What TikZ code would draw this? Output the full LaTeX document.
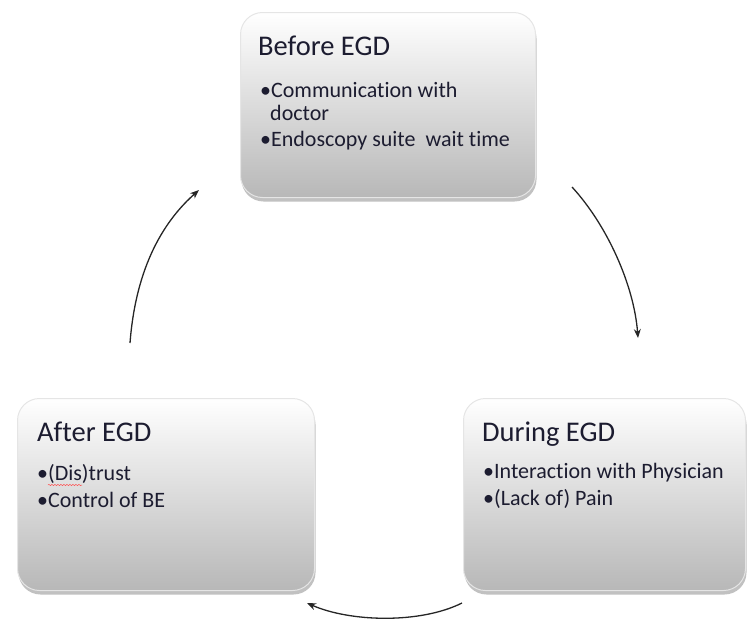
\documentclass[tikz,border=0pt]{standalone}
\usepackage{fontspec}
\setmainfont{Carlito}[Ligatures=NoCommon]
\usetikzlibrary{shadows,arrows.meta,decorations.pathmorphing}
\definecolor{ink}{RGB}{28,28,48}
\begin{document}
\begin{tikzpicture}[x=1pt,y=-1pt]
\useasboundingbox (0,0) rectangle (747,621);
\tikzset{
 box/.style={rounded corners=22pt, top color=white, bottom color=black!28, draw=white!80!gray, line width=1pt,
   drop shadow={shadow xshift=1pt, shadow yshift=-4pt, opacity=0.35, fill=black!70}},
 ttl/.style={anchor=base west, inner sep=0pt, font=\fontsize{28.5}{30}\selectfont, text=ink},
 itm/.style={anchor=base west, inner sep=0pt, font=\fontsize{22}{24}\selectfont, text=ink},
 cyc/.style={-{Stealth[length=9pt,width=7pt]}, line width=1.3pt, black!85}
}
% boxes
\node[box, anchor=north west, minimum width=295pt, minimum height=185pt] (before) at (240,12) {};
\node[box, anchor=north west, minimum width=297pt, minimum height=192pt] (after) at (17,398) {};
\node[box, anchor=north west, minimum width=282pt, minimum height=192pt] (during) at (463,398) {};
% Before texts
\node[ttl] (bt) at (258,55) {Before EGD};
\node[itm] (b1) at (260,97) {•Communication with};
\node[itm] (b2) at (270,120) {doctor};
\node[itm] (b3) at (260,146) {•Endoscopy suite\ \ wait time};
% After texts
\node[ttl] (at) at (37,441) {After EGD};
\node[itm] (a1) at (37,480) {•(Dis)trust};
\node[itm] (a2) at (37,507) {•Control of BE};
\draw[red!70, line width=0.5pt, decorate, decoration={snake, amplitude=0.6pt, segment length=3pt}] (48,485) -- (82,485);
% During texts
\node[ttl] (dt) at (482,441) {During EGD};
\node[itm] (d1) at (483,478) {•Interaction with Physician};
\node[itm] (d2) at (483,505) {•(Lack of) Pain};
% cycle arrows
\coordinate (l1) at (130,343);
\coordinate (l2) at (199,190);
\coordinate (r1) at (572,187);
\coordinate (r2) at (638,338);
\coordinate (m1) at (462,603);
\coordinate (m2) at (307,603);
\draw[cyc] (l1) .. controls (136,265) and (165,220) .. (l2);
\draw[cyc] (r1) .. controls (607,225) and (634,285) .. (r2);
\draw[cyc] (m1) .. controls (420,624) and (350,622) .. (m2);
\end{tikzpicture}
\end{document}
